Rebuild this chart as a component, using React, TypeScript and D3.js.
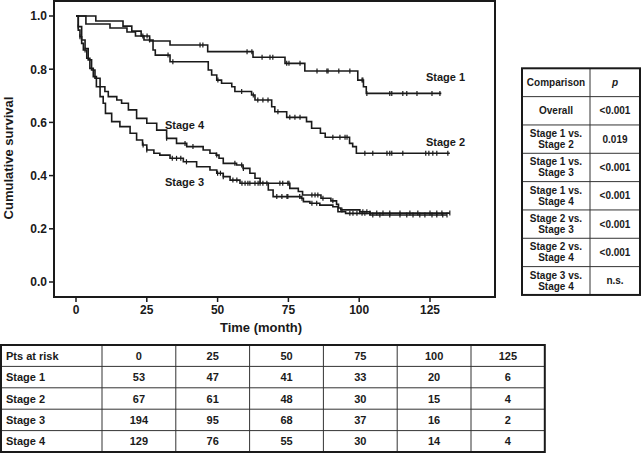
import React from "react";
import * as d3 from "d3";

// ---------- data ----------
const xTicks = [0, 25, 50, 75, 100, 125];
const yTicks = [0, 0.2, 0.4, 0.6, 0.8, 1.0];

const s1Times = [0, 7, 16.6, 19.7, 23, 26, 33.2, 46.5, 62.5, 73.8, 80.8, 99.5, 101.5, 102.5];
const s1Surv = [1.0, 0.981, 0.962, 0.943, 0.925, 0.906, 0.891, 0.866, 0.845, 0.822, 0.793, 0.759, 0.734, 0.709];
const s1End = 129;
const s1Censor = [23.6, 25.1, 43.8, 44.8, 60.4, 62.1, 65.7, 68.5, 69.5, 74.4, 75.2, 79.1, 85.1, 88.6, 89, 92.8, 96.7, 101, 101.3, 102.7, 110.8, 111.5, 115.4, 116.8, 120.4, 125.7, 128.5];

const s2Times = [0, 3.5, 12, 18, 21, 24, 27.2, 28, 33.2, 46.7, 47.9, 49.7, 51.4, 55, 56.1, 62, 63.2, 69.1, 70.2, 74.4, 81.4, 83.2, 86.3, 88, 96.6, 97.7, 99];
const s2Surv = [1.0, 0.97, 0.955, 0.94, 0.925, 0.91, 0.872, 0.853, 0.828, 0.797, 0.778, 0.759, 0.747, 0.734, 0.716, 0.703, 0.684, 0.659, 0.64, 0.619, 0.603, 0.578, 0.559, 0.544, 0.521, 0.509, 0.484];
const s2End = 132;
const s2Censor = [26, 32.5, 34.2, 50.1, 58.5, 62.6, 64.2, 66, 67.8, 71.3, 75.5, 77.3, 79.1, 90.7, 93.2, 95, 95.7, 102, 104.8, 109.8, 110.8, 111.5, 115.4, 123.5, 124.6, 126, 127.4, 131.3];

const s3Times = [0, 0.8, 1.4, 2.0, 2.6, 3.8, 4.9, 6.1, 7.2, 8.5, 9.6, 10.4, 12.6, 15.5, 19.1, 21.4, 23.5, 25, 27.5, 29.6, 33.2, 37.9, 42.6, 47.3, 49.7, 52, 54.4, 57.9, 75.5, 78.5, 80, 86.5, 90, 92, 92.7, 93.5, 100.2, 103.8];
const s3Surv = [1.0, 0.947, 0.922, 0.897, 0.872, 0.841, 0.803, 0.772, 0.734, 0.697, 0.672, 0.634, 0.603, 0.584, 0.559, 0.534, 0.515, 0.496, 0.484, 0.477, 0.465, 0.452, 0.433, 0.421, 0.409, 0.396, 0.383, 0.371, 0.352, 0.34, 0.327, 0.315, 0.305, 0.292, 0.278, 0.271, 0.264, 0.259];
const s3End = 132;
const s3Censor = [1.4, 3.2, 23.7, 25, 34, 35.5, 37, 39, 50, 51, 52, 55.4, 56.8, 58.6, 59.7, 60.7, 61.4, 63.2, 64.3, 65, 66, 67.4, 72, 73, 74.8, 75.2, 83.3, 84.4, 85.4, 87.2, 90.7, 93.9, 100.2, 101.3, 102.7, 103.8, 106.2, 108.4, 110.8, 114.4, 117.9, 120.7, 125, 127.4, 129.2, 132];

const s4Times = [0, 0.8, 2, 3.2, 4.3, 5.5, 6.7, 8.5, 10.2, 11.4, 14.4, 16.1, 18.5, 21.4, 25, 28.5, 32, 35.5, 39.1, 44.9, 47.3, 49.5, 50.5, 52, 56.7, 59, 61.4, 63.2, 65, 67.9, 69.6, 79.5, 80.3, 82.6, 86.1, 90.7, 92.5, 95.2, 103.8];
const s4Surv = [1.0, 0.96, 0.91, 0.878, 0.835, 0.797, 0.766, 0.734, 0.716, 0.697, 0.684, 0.672, 0.647, 0.615, 0.597, 0.571, 0.54, 0.521, 0.509, 0.496, 0.484, 0.477, 0.465, 0.446, 0.44, 0.427, 0.409, 0.39, 0.371, 0.346, 0.321, 0.315, 0.302, 0.296, 0.289, 0.283, 0.264, 0.258, 0.252];
const s4End = 131;
const s4Censor = [0.8, 32, 38.5, 41.3, 49.7, 56.1, 58.5, 59.1, 70.9, 72.7, 74.5, 74.8, 79, 79.8, 83.3, 85, 96.7, 97.8, 99.2, 101, 102, 104.8, 107.3, 110.8, 114.4, 116.8, 119, 121.4, 123.2, 125.7, 127.4, 129.5, 131];

const curveLabels = ["Stage 1", "Stage 2", "Stage 3", "Stage 4"];

const comparisons = [
  ["Overall"],
  ["Stage 1 vs.", "Stage 2"],
  ["Stage 1 vs.", "Stage 3"],
  ["Stage 1 vs.", "Stage 4"],
  ["Stage 2 vs.", "Stage 3"],
  ["Stage 2 vs.", "Stage 4"],
  ["Stage 3 vs.", "Stage 4"],
];
const pValues = ["<0.001", "0.019", "<0.001", "<0.001", "<0.001", "<0.001", "n.s."];

const riskTimes = [0, 25, 50, 75, 100, 125];
const riskStages = ["Stage 1", "Stage 2", "Stage 3", "Stage 4"];
const risk1 = [53, 47, 41, 33, 20, 6];
const risk2 = [67, 61, 48, 30, 15, 4];
const risk3 = [194, 95, 68, 37, 16, 2];
const risk4 = [129, 76, 55, 30, 14, 4];

// ---------- layout ----------
const W = 641;
const H = 453;
const FONT = "'Liberation Sans', Arial, Helvetica, sans-serif";
const INK = "#1a1a1a";

const x = d3.scaleLinear().domain([0, 125]).range([76, 430]);
const y = d3.scaleLinear().domain([0, 1]).range([282, 16]);
const frame = { left: 54, right: 495, top: 1, bottom: 297 };

const series = [
  { times: s1Times, surv: s1Surv, end: s1End, censor: s1Censor },
  { times: s2Times, surv: s2Surv, end: s2End, censor: s2Censor },
  { times: s3Times, surv: s3Surv, end: s3End, censor: s3Censor },
  { times: s4Times, surv: s4Surv, end: s4End, censor: s4Censor },
];

const labelPos = [
  { x: 426, y: 81 },
  { x: 426, y: 146 },
  { x: 165, y: 186 },
  { x: 165, y: 129 },
];

function survAt(times: number[], surv: number[], t: number) {
  let s = surv[0];
  for (let i = 0; i < times.length; i++) {
    if (times[i] <= t) s = surv[i];
  }
  return s;
}

const stepLine = d3
  .line<[number, number]>()
  .x((d) => x(d[0]))
  .y((d) => y(d[1]))
  .curve(d3.curveStepAfter);

export default function App() {
  const rt = { left: 522, mid: 590, right: 640, top: 68.3, rowH: 28.33 };
  const rtRows = comparisons.length + 1;
  const bt = { left: 1, firstW: 101, colW: 73.8, top: 345, rowH: 21.4 };
  const btCols = riskTimes.length;
  const btRight = bt.left + bt.firstW + btCols * bt.colW;
  const btRowsData = [risk1, risk2, risk3, risk4];

  return (
    <svg
      width={W}
      height={H}
      style={{ position: "absolute", left: 0, top: 0, background: "#fff" }}
      fontFamily={FONT}
    >
      <rect x={0} y={0} width={W} height={H} fill="#fff" />

      <rect
        x={frame.left}
        y={frame.top}
        width={frame.right - frame.left}
        height={frame.bottom - frame.top}
        fill="none"
        stroke={INK}
        strokeWidth={2}
      />

      {yTicks.map((v) => (
        <g key={"y" + v}>
          <line x1={frame.left - 5} x2={frame.left} y1={y(v)} y2={y(v)} stroke={INK} strokeWidth={1.5} />
          <text x={frame.left - 7} y={y(v) + 4.3} textAnchor="end" fontSize={12} fontWeight="bold" fill={INK}>
            {d3.format(".1f")(v)}
          </text>
        </g>
      ))}
      {xTicks.map((v) => (
        <g key={"x" + v}>
          <line x1={x(v)} x2={x(v)} y1={frame.bottom} y2={frame.bottom + 5} stroke={INK} strokeWidth={1.5} />
          <text x={x(v)} y={frame.bottom + 17} textAnchor="middle" fontSize={12} fontWeight="bold" fill={INK}>
            {v}
          </text>
        </g>
      ))}
      <text x={261} y={332} textAnchor="middle" fontSize={13} fontWeight="bold" fill={INK}>
        Time (month)
      </text>
      <text transform={`translate(13,158) rotate(-90)`} textAnchor="middle" fontSize={13} fontWeight="bold" fill={INK}>
        Cumulative survival
      </text>

      {series.map((s, i) => {
        const pts: [number, number][] = s.times.map((t, k) => [t, s.surv[k]] as [number, number]);
        pts.push([s.end, s.surv[s.surv.length - 1]]);
        return (
          <g key={"s" + i}>
            <path d={stepLine(pts) || ""} fill="none" stroke={INK} strokeWidth={1.6} />
            {s.censor.map((c, k) => {
              const sv = survAt(s.times, s.surv, c);
              return (
                <line key={k} x1={x(c)} x2={x(c)} y1={y(sv) - 2.5} y2={y(sv) + 2.5} stroke={INK} strokeWidth={1.2} />
              );
            })}
          </g>
        );
      })}
      {curveLabels.map((l, i) => (
        <text key={l} x={labelPos[i].x} y={labelPos[i].y} fontSize={11} fontWeight="bold" fill={INK}>
          {l}
        </text>
      ))}

      <g>
        {d3.range(1, rtRows).map((r) => (
          <line key={"rh" + r} x1={rt.left} x2={rt.right} y1={rt.top + r * rt.rowH} y2={rt.top + r * rt.rowH} stroke="#333" strokeWidth={1} />
        ))}
        <line x1={rt.mid} x2={rt.mid} y1={rt.top} y2={rt.top + rtRows * rt.rowH} stroke="#333" strokeWidth={1} />
        <rect x={rt.left} y={rt.top} width={rt.right - rt.left} height={rtRows * rt.rowH} fill="none" stroke={INK} strokeWidth={2} />
        <text x={(rt.left + rt.mid) / 2} y={rt.top + rt.rowH / 2 + 3.5} textAnchor="middle" fontSize={10} fontWeight="bold" fill={INK}>
          Comparison
        </text>
        <text x={(rt.mid + rt.right) / 2} y={rt.top + rt.rowH / 2 + 3.5} textAnchor="middle" fontSize={10} fontWeight="bold" fontStyle="italic" fill={INK}>
          p
        </text>
        {comparisons.map((lines, r) => {
          const cy = rt.top + (r + 1.5) * rt.rowH;
          return (
            <g key={"rc" + r}>
              {lines.map((ln, k) => (
                <text
                  key={k}
                  x={(rt.left + rt.mid) / 2}
                  y={cy + 3.5 + (k - (lines.length - 1) / 2) * 11}
                  textAnchor="middle"
                  fontSize={10}
                  fontWeight="bold"
                  fill={INK}
                >
                  {ln}
                </text>
              ))}
              <text x={(rt.mid + rt.right) / 2} y={cy + 3.5} textAnchor="middle" fontSize={10} fontWeight="bold" fill={INK}>
                {pValues[r]}
              </text>
            </g>
          );
        })}
      </g>

      <g>
        {d3.range(1, 5).map((r) => (
          <line key={"bh" + r} x1={bt.left} x2={btRight} y1={bt.top + r * bt.rowH} y2={bt.top + r * bt.rowH} stroke="#333" strokeWidth={1} />
        ))}
        {d3.range(0, btCols).map((c) => (
          <line
            key={"bv" + c}
            x1={bt.left + bt.firstW + c * bt.colW}
            x2={bt.left + bt.firstW + c * bt.colW}
            y1={bt.top}
            y2={bt.top + 5 * bt.rowH}
            stroke="#333"
            strokeWidth={1}
          />
        ))}
        <rect x={bt.left} y={bt.top} width={btRight - bt.left} height={5 * bt.rowH} fill="none" stroke={INK} strokeWidth={2} />
        <text x={bt.left + 5} y={bt.top + bt.rowH / 2 + 4} fontSize={11} fontWeight="bold" fill={INK}>
          Pts at risk
        </text>
        {riskTimes.map((t, c) => (
          <text key={"bt" + c} x={bt.left + bt.firstW + (c + 0.5) * bt.colW} y={bt.top + bt.rowH / 2 + 4} textAnchor="middle" fontSize={11} fontWeight="bold" fill={INK}>
            {t}
          </text>
        ))}
        {riskStages.map((st, r) => {
          const cy = bt.top + (r + 1.5) * bt.rowH + 4;
          return (
            <g key={"br" + r}>
              <text x={bt.left + 5} y={cy} fontSize={11} fontWeight="bold" fill={INK}>
                {st}
              </text>
              {btRowsData[r].map((v, c) => (
                <text key={c} x={bt.left + bt.firstW + (c + 0.5) * bt.colW} y={cy} textAnchor="middle" fontSize={11} fontWeight="bold" fill={INK}>
                  {v}
                </text>
              ))}
            </g>
          );
        })}
      </g>
    </svg>
  );
}
